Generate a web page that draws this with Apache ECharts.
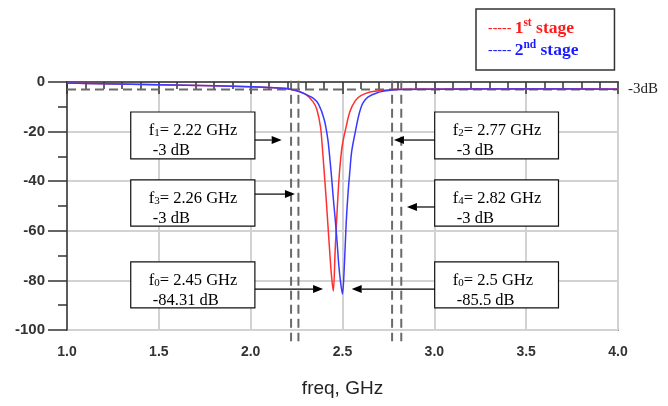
<!DOCTYPE html>
<html>
<head>
<meta charset="utf-8">
<script src="https://cdn.jsdelivr.net/npm/echarts@6/dist/echarts.min.js"></script>
<style>
  html, body { margin: 0; padding: 0; background: #fff; }
  #chart { width: 668px; height: 406px; }
</style>
</head>
<body>
<div id="chart"></div>
<script>
// S21 of the two filter stages (GHz, dB)
const freqStage1 = [1.0, 1.2, 1.5, 1.8, 2.0, 2.1, 2.2, 2.25, 2.3, 2.34, 2.36, 2.38, 2.39, 2.40, 2.41, 2.42, 2.43, 2.44, 2.45,
  2.46, 2.47, 2.48, 2.49, 2.50, 2.52, 2.54, 2.57, 2.60, 2.65, 2.70, 2.77, 2.85, 3.0, 3.5, 4.0];
const lossStage1 = [-0.4, -0.7, -1.1, -1.5, -1.9, -2.2, -2.8, -3.5, -5.0, -8, -11, -18, -26, -36, -46, -57, -68, -78, -84.31,
  -68, -53, -40, -31, -25, -18, -12, -7.5, -5.5, -4.0, -3.5, -3.0, -2.9, -2.8, -2.7, -2.8];

const freqStage2 = [1.0, 1.2, 1.5, 1.8, 2.0, 2.1, 2.2, 2.27, 2.30, 2.34, 2.37, 2.40, 2.42, 2.43, 2.44, 2.45, 2.46, 2.47, 2.48, 2.49, 2.50,
  2.51, 2.52, 2.53, 2.54, 2.55, 2.57, 2.59, 2.61, 2.64, 2.69, 2.75, 2.80, 3.0, 3.5, 4.0];
const lossStage2 = [-0.4, -0.7, -1.1, -1.5, -1.9, -2.2, -2.6, -4.0, -5.0, -6.5, -9, -15, -23, -30, -38, -47, -55, -64, -74, -81, -85.5,
  -74, -57, -45, -36, -28, -20, -13, -8.6, -6, -4.3, -3.4, -3.0, -2.9, -2.8, -2.9];

// -3 dB cut-off markers
const cutoffLevel = -3;
const cutoffFreqs = [2.22, 2.26, 2.77, 2.82];

// annotation values: f1, f3, f0 (stage 1), f2, f4, f0 (stage 2)
const noteSub = ['1', '3', '0', '2', '4', '0'];
const noteFreq = [2.22, 2.26, 2.45, 2.77, 2.82, 2.5];
const noteLoss = [-3, -3, -84.31, -3, -3, -85.5];

// where the boxes sit, in axis units
const boxCols = [[1.347, 2.023], [3.002, 3.676]];
const boxRows = [[-12.1, -31.0], [-39.5, -58.1], [-72.5, -91.1]];
const noteCol = [0, 0, 0, 1, 1, 1];
const noteRow = [0, 1, 2, 0, 1, 2];
const arrowY = [-23.4, -45.2, -83.5, -23.4, -50.4, -83.5];
const arrowTip = [2.169, 2.241, 2.394, 2.78, 2.851, 2.55];

const zip = (xs, ys) => xs.map((x, i) => [x, ys[i]]);

const chart = echarts.init(document.getElementById('chart'));

const dashGray = { color: '#6a6a6a', width: 2, type: [9, 5] };

function renderCutoff(params, api) {
  const top = api.coord([api.value(0), 0.5]);
  const bot = api.coord([api.value(0), -104.5]);
  return {
    type: 'line',
    shape: { x1: top[0], y1: top[1], x2: bot[0], y2: bot[1] },
    style: { stroke: dashGray.color, lineWidth: 2, lineDash: dashGray.type }
  };
}

function renderNote(params, api) {
  const i = params.dataIndex;
  const col = boxCols[noteCol[i]], row = boxRows[noteRow[i]];
  const tl = api.coord([col[0], row[0]]);
  const br = api.coord([col[1], row[1]]);
  const ay = api.coord([col[0], arrowY[i]])[1];
  const tipX = api.coord([arrowTip[i], 0])[0];
  const fromX = tipX > br[0] ? br[0] : tl[0];
  const dir = tipX > fromX ? 1 : -1;
  const head = 10;
  return {
    type: 'group',
    children: [
      {
        type: 'rect',
        shape: { x: tl[0], y: tl[1], width: br[0] - tl[0], height: br[1] - tl[1] },
        style: { fill: '#fff', stroke: '#111', lineWidth: 1.2 }
      },
      {
        type: 'text',
        x: tl[0] + 18, y: tl[1] + 7,
        style: {
          text: '{a|f}{s|' + noteSub[i] + '}{a|= ' + api.value(0) + ' GHz}\n{a| ' + api.value(1) + ' dB}',
          fill: '#000',
          verticalAlign: 'top',
          rich: {
            a: { fontFamily: 'Liberation Serif', fontSize: 16.5, lineHeight: 20, verticalAlign: 'bottom' },
            s: { fontFamily: 'Liberation Serif', fontSize: 11, lineHeight: 13, verticalAlign: 'bottom' }
          }
        }
      },
      {
        type: 'line',
        shape: { x1: fromX, y1: ay, x2: tipX - dir * head, y2: ay },
        style: { stroke: '#000', lineWidth: 1.2 }
      },
      {
        type: 'polygon',
        shape: { points: [[tipX, ay], [tipX - dir * head, ay - 4], [tipX - dir * head, ay + 4]] },
        style: { fill: '#000' }
      }
    ]
  };
}

const legendRich = {
  d: { fontFamily: 'Liberation Serif', fontSize: 14, fontWeight: 'normal', lineHeight: 20, verticalAlign: 'bottom', padding: [0, 0, 2, 0] },
  n: { fontFamily: 'Liberation Serif', fontSize: 17.5, fontWeight: 'bold', lineHeight: 20, verticalAlign: 'bottom' },
  sup: { fontFamily: 'Liberation Serif', fontSize: 11.5, fontWeight: 'bold', lineHeight: 17, verticalAlign: 'top' }
};

chart.setOption({
  animation: false,
  grid: { left: 67, right: 50, top: 82, bottom: 76, show: true, borderColor: '#8a8a8a', borderWidth: 2 },
  legend: {
    left: 476, top: 9,
    orient: 'vertical',
    selectedMode: false,
    itemWidth: 0, itemHeight: 0, itemGap: 2,
    padding: [8, 36, 11, 7],
    borderColor: '#333', borderWidth: 1.5,
    formatter: name => '{d|-----} ' + name.replace(/^(\d)(st|nd) stage$/, '{n|$1}{sup|$2}{n| stage}'),
    textStyle: { rich: legendRich },
    data: [
      { name: '1st stage', icon: 'rect', textStyle: { color: '#ff1a1a' } },
      { name: '2nd stage', icon: 'rect', textStyle: { color: '#1a1aff' } }
    ]
  },
  xAxis: {
    type: 'value', min: 1, max: 4, interval: 0.5,
    name: 'freq, GHz', nameLocation: 'middle', nameGap: 49,
    nameTextStyle: { fontFamily: 'Liberation Sans', fontSize: 19, color: '#222' },
    axisLine: { lineStyle: { color: '#333', width: 1.5 } },
    axisTick: { length: 12, lineStyle: { color: '#333', width: 1.5 } },
    minorTick: { show: true, splitNumber: 5, length: 7, lineStyle: { color: '#333', width: 1.5 } },
    axisLabel: { margin: 15, fontFamily: 'Liberation Sans', fontSize: 14, fontWeight: 'bold', color: '#333',
      formatter: v => v.toFixed(1) },
    splitLine: { lineStyle: { color: '#d2d2d2', width: 2 } }
  },
  yAxis: {
    type: 'value', min: -100, max: 0, interval: 20,
    axisLine: { show: true, lineStyle: { color: '#333', width: 1.5 } },
    axisTick: { show: true, length: 19, lineStyle: { color: '#333', width: 1.5 } },
    minorTick: { show: true, splitNumber: 2, length: 9, lineStyle: { color: '#333', width: 1.5 } },
    axisLabel: { margin: 22, fontFamily: 'Liberation Sans', fontSize: 15, fontWeight: 'bold', color: '#333' },
    splitLine: { lineStyle: { color: '#d2d2d2', width: 2 } }
  },
  series: [
    {
      type: 'line', name: '-3dB', silent: true, clip: false, z: 1,
      data: [[1, cutoffLevel], [4.055, cutoffLevel]],
      symbol: 'none', lineStyle: dashGray,
      endLabel: { show: true, formatter: '-3dB', distance: 9, fontFamily: 'Liberation Serif', fontSize: 15, color: '#222' }
    },
    {
      type: 'custom', name: 'cutoffs', silent: true, clip: false, z: 1,
      data: cutoffFreqs.map(f => [f, cutoffLevel]),
      renderItem: renderCutoff
    },
    {
      type: 'line', name: '1st stage', z: 3,
      data: zip(freqStage1, lossStage1), smooth: 0.3,
      symbol: 'none', color: '#ff1a1a', lineStyle: { width: 1.5, color: '#ff3030' }
    },
    {
      type: 'line', name: '2nd stage', z: 4,
      data: zip(freqStage2, lossStage2), smooth: 0.3,
      symbol: 'none', color: '#1a1aff', lineStyle: { width: 1.5, color: '#3a3aff' }
    },
    {
      type: 'custom', name: 'notes', silent: true, clip: false, z: 5,
      data: zip(noteFreq, noteLoss),
      renderItem: renderNote
    }
  ]
});
</script>
</body>
</html>
